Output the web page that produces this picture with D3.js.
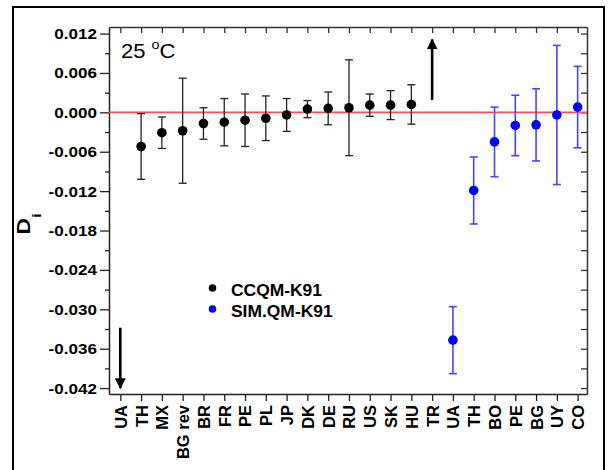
<!DOCTYPE html>
<html><head><meta charset="utf-8">
<script src="https://cdn.jsdelivr.net/npm/d3@7"></script>
<style>body{margin:0;background:#fff}svg{display:block}text{font-family:"Liberation Sans",Arial,sans-serif}</style>
</head><body><svg id="c" width="608" height="470"></svg>
<script>
// CCQM-K91 group (UA and TR off-scale, shown as arrows)
const ccqmLabels = ["UA","TH","MX","BG rev","BR","FR","PE","PL","JP","DK","DE","RU","US","SK","HU","TR"];
const ccqmValues = [null,-0.0052,-0.0031,-0.0028,-0.0017,-0.0015,-0.0012,-0.0009,-0.0004,0.0005,0.0006,0.0007,0.0011,0.0011,0.0012,null];
const ccqmU      = [null,0.0050,0.0024,0.0080,0.0024,0.0036,0.0040,0.0034,0.0025,0.0013,0.0025,0.0073,0.0017,0.0022,0.0030,null];
const ccqmOff    = ["down",null,null,null,null,null,null,null,null,null,null,null,null,null,null,"up"];
// SIM.QM-K91 group
const simLabels = ["UA","TH","BO","PE","BG","UY","CO"];
const simValues = [-0.0347,-0.0119,-0.0045,-0.0020,-0.0019,-0.0004,0.0008];
const simU      = [0.0051,0.0051,0.0053,0.0046,0.0055,0.0106,0.0062];
const yTicks = [0.012,0.006,0.000,-0.006,-0.012,-0.018,-0.024,-0.030,-0.036,-0.042];
const seriesNames = ["CCQM-K91","SIM.QM-K91"];
const seriesColors = ["#000000","#0000ff"];
const errColors = ["#222222","#4646ff"];

const xLabels = ccqmLabels.concat(simLabels);
const svg = d3.select("#c");
const L=109,R=587,T=27,B=394;
const x = d3.scaleLinear().domain([-0.544, xLabels.length-0.55]).range([L,R]);
const y = d3.scaleLinear().domain([-0.0429,0.0130]).range([B,T]);

// outer frame
svg.append("rect").attr("x",13).attr("y",7).attr("width",591).attr("height",470)
  .attr("fill","none").attr("stroke","#000").attr("stroke-width",2);

// minor ticks values
const minor = d3.range(-0.045,0.0135,0.003).map(v=>+v.toFixed(4)).filter(v=>v>=-0.0429&&v<=0.013&&!yTicks.some(t=>Math.abs(t-v)<1e-6));

// left axis
const gl = svg.append("g").attr("transform",`translate(${L},0)`)
  .call(d3.axisLeft(y).tickValues(yTicks).tickFormat(d3.format(".3f")).tickSize(9).tickSizeOuter(0));
gl.selectAll("text").attr("font-size",15.5).attr("font-weight","bold").attr("fill","#000")
  .attr("x",-11).attr("transform","scale(1.1,1)")
  .text(d=>d3.format(".3f")(d).replace("−","-"));
gl.select(".domain").attr("stroke","#222").attr("stroke-width",1.5);
gl.selectAll(".tick line").attr("stroke","#222").attr("stroke-width",1.3);
svg.append("g").attr("transform",`translate(${L},0)`)
  .call(d3.axisLeft(y).tickValues(minor).tickFormat("").tickSize(4).tickSizeOuter(0))
  .call(g=>{g.select(".domain").remove();g.selectAll("line").attr("stroke","#222").attr("stroke-width",1.3);});

// right axis (inward)
const grt = svg.append("g").attr("transform",`translate(${R},0)`)
  .call(d3.axisLeft(y).tickValues(yTicks.concat(minor)).tickFormat("").tickSizeOuter(0));
grt.selectAll(".tick line").attr("x2",-6).attr("stroke","#333").attr("stroke-width",1.3);
grt.select(".domain").attr("stroke","#333").attr("stroke-width",1.5);

// bottom axis
const gb = svg.append("g").attr("transform",`translate(0,${B})`)
  .call(d3.axisBottom(x).tickValues(d3.range(xLabels.length)).tickFormat(i=>xLabels[i]).tickSize(7).tickSizeOuter(0));
gb.select(".domain").attr("stroke","#222").attr("stroke-width",1.5);
gb.selectAll(".tick line").attr("stroke","#222").attr("stroke-width",1.3);
gb.selectAll("text").attr("font-size",16.5).attr("font-weight","bold").attr("fill","#000")
  .attr("text-anchor","end").attr("transform","rotate(-90)").attr("x",-11).attr("y",0).attr("dy","0.36em");

// top axis (inward)
const gt = svg.append("g").attr("transform",`translate(0,${T})`)
  .call(d3.axisTop(x).tickValues(d3.range(xLabels.length)).tickFormat("").tickSizeOuter(0));
gt.selectAll(".tick line").attr("y2",6).attr("stroke","#333").attr("stroke-width",1.3);
gt.select(".domain").attr("stroke","#333").attr("stroke-width",1.5);

// zero line
svg.append("line").attr("x1",L).attr("x2",R).attr("y1",y(0)).attr("y2",y(0))
  .attr("stroke","#ff5050").attr("stroke-width",1.6);

// series data
const pts = [];
ccqmLabels.forEach((lab,i)=>{ if(ccqmValues[i]!==null) pts.push({i, v:ccqmValues[i], u:ccqmU[i], s:0}); });
simLabels.forEach((lab,j)=>{ pts.push({i:ccqmLabels.length+j, v:simValues[j], u:simU[j], s:1}); });

const eb = svg.append("g");
pts.forEach(p=>{
  const cx=x(p.i), y1=y(p.v+p.u), y2=y(p.v-p.u), c=errColors[p.s], w=p.s?1.6:1.3;
  eb.append("line").attr("x1",cx).attr("x2",cx).attr("y1",y1).attr("y2",y2).attr("stroke",c).attr("stroke-width",w);
  [y1,y2].forEach(yy=>eb.append("line").attr("x1",cx-4).attr("x2",cx+4).attr("y1",yy).attr("y2",yy).attr("stroke",c).attr("stroke-width",w));
});
svg.append("g").selectAll("circle").data(pts).join("circle")
  .attr("cx",d=>x(d.i)).attr("cy",d=>y(d.v)).attr("r",4.8).attr("fill",d=>seriesColors[d.s]);

// off-scale arrows
const defs = svg.append("defs");
defs.append("marker").attr("id","ah").attr("viewBox","0 0 10 10").attr("refX",9).attr("refY",5)
  .attr("markerWidth",4.2).attr("markerHeight",4.2).attr("markerUnits","strokeWidth").attr("orient","auto")
  .append("path").attr("d","M0,0 L10,5 L0,10 Z").attr("fill","#000");
ccqmOff.forEach((d,i)=>{
  if(!d) return;
  const cx=x(i);
  const [a,b] = d==="down" ? [-0.0328,-0.0420] : [0.0019,0.0111];
  svg.append("line").attr("x1",cx).attr("x2",cx).attr("y1",y(a)).attr("y2",y(b))
    .attr("stroke","#000").attr("stroke-width",2.6).attr("marker-end","url(#ah)");
});

// legend
seriesNames.forEach((n,k)=>{
  const ly = 288 + k*21;
  svg.append("circle").attr("cx",212.5).attr("cy",ly).attr("r",3.8).attr("fill",seriesColors[k]);
  svg.append("text").attr("transform",`translate(231,${ly+8}) scale(1.09,1)`)
    .attr("font-size",16).attr("font-weight","bold").attr("fill","#000").text(n);
});

// temperature label
const tl = svg.append("text").attr("transform","translate(121,58) scale(1.1,1)").attr("font-size",20).attr("fill","#000");
tl.append("tspan").text("25 ");
tl.append("tspan").attr("font-size",13).attr("dy",-9).text("o");
tl.append("tspan").attr("dy",9).text("C");

// y label
const yl = svg.append("text").attr("transform","translate(29.5,234.5) rotate(-90) scale(1.3,1)")
  .attr("font-size",17.5).attr("font-weight","bold").attr("fill","#000");
yl.append("tspan").text("D");
yl.append("tspan").attr("font-size",13).attr("dy",11).text("i");
</script></body></html>
